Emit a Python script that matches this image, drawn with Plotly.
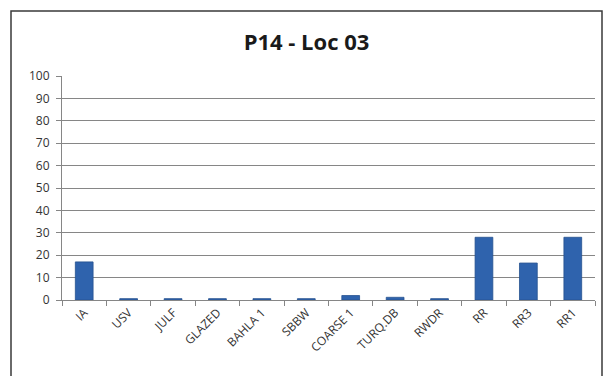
import plotly.graph_objects as go

# Sample categories and measured percentages for P14 - Loc 03
categories = ["IA", "USV", "JULF", "GLAZED", "BAHLA 1", "SBBW",
              "COARSE 1", "TURQ.DB", "RWDR", "RR", "RR3", "RR1"]
values = [17, 0.6, 0.6, 0.6, 0.6, 0.6, 2, 1.2, 0.6, 28, 16.5, 28]
y_ticks = [0, 10, 20, 30, 40, 50, 60, 70, 80, 90, 100]

W, H = 613, 376
L, R, T, B = 62, 18, 76, 76
pw, ph = W - L - R, H - T - B

def px_x(x):
    return (x - L) / pw

def px_y(y):
    return (H - B - y) / ph

fig = go.Figure(
    go.Bar(
        x=categories,
        y=values,
        width=0.4,
        marker=dict(color="#2F63AD", line=dict(color="#26528F", width=0.8)),
    )
)

fig.update_layout(
    width=W,
    height=H,
    margin=dict(l=L, r=R, t=T, b=B),
    paper_bgcolor="white",
    plot_bgcolor="white",
    showlegend=False,
    font=dict(family="Open Sans, Liberation Sans, sans-serif", color="#333333"),
    title=dict(
        text="<b>P14 - Loc 03</b>",
        x=0.5,
        xanchor="center",
        y=1 - 42 / H,
        yanchor="middle",
        font=dict(size=22, color="#1a1a1a", family="Open Sans, Liberation Sans, sans-serif"),
    ),
    bargap=0.6,
)

fig.update_xaxes(
    type="category",
    tickangle=-45,
    tickfont=dict(size=12, color="#333333"),
    showline=True,
    linecolor="#868686",
    linewidth=1,
    ticks="outside",
    tickson="boundaries",
    ticklen=5,
    tickcolor="#868686",
    showgrid=False,
)

fig.update_yaxes(
    range=[0, 100],
    tickvals=y_ticks,
    tickfont=dict(size=12, color="#333333"),
    ticklabelstandoff=4,
    showline=True,
    linecolor="#868686",
    linewidth=1,
    ticks="outside",
    ticklen=5,
    tickcolor="#868686",
    showgrid=True,
    gridcolor="#868686",
    gridwidth=1,
    zeroline=False,
)

# Chart frame
fig.add_shape(
    type="rect",
    xref="paper",
    yref="paper",
    x0=px_x(11),
    x1=px_x(602),
    y0=px_y(385),
    y1=px_y(11),
    line=dict(color="#3a3a3a", width=1.5),
    fillcolor="rgba(0,0,0,0)",
    layer="below",
)

fig.write_html("out.html")
